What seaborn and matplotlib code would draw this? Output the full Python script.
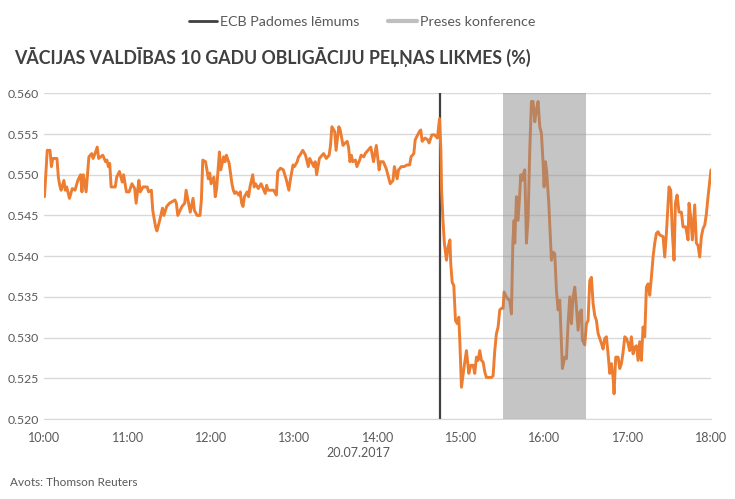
import pandas as pd
import numpy as np
import matplotlib
matplotlib.use('Agg')
import matplotlib.pyplot as plt
import matplotlib.dates as mdates
from matplotlib.lines import Line2D
import seaborn as sns

# minutes after 10:00 on 20.07.2017
minutes = [
    0, 2, 4, 5, 6, 9, 10, 11, 12, 14, 15, 16, 18, 20, 22, 24, 26, 27, 28, 30,
    32, 34, 35, 36, 38, 39, 42, 44, 45, 46, 47, 48, 51, 52, 54, 56, 57, 59, 61, 63,
    65, 66, 68, 69, 71, 74, 75, 77, 78, 80, 81, 83, 85, 86, 88, 90, 94, 95, 96, 99,
    101, 102, 104, 105, 107, 108, 110, 112, 113, 114, 116, 117, 118, 119, 120, 122, 123, 124, 126, 127,
    129, 130, 131, 133, 135, 136, 137, 138, 140, 141, 142, 143, 144, 146, 147, 148, 150, 151, 152, 154,
    156, 158, 159, 160, 161, 165, 167, 168, 170, 172, 174, 176, 177, 179, 180, 182, 183, 184, 186, 188,
    190, 191, 194, 195, 196, 198, 199, 201, 203, 205, 206, 207, 209, 210, 212, 213, 215, 216, 218, 219,
    220, 221, 222, 224, 225, 227, 228, 230, 231, 233, 234, 235, 237, 239, 241, 242, 244, 246, 247, 249,
    251, 252, 254, 255, 257, 259, 261, 263, 264, 266, 267, 270, 271, 272, 274, 276, 277, 279, 281, 283,
    284.5, 285.5, 286, 287, 288, 289.5, 290.7, 292, 292.6, 293.6, 294.8, 296, 297.4, 298.4, 299.1, 300.3, 302.2, 303.9, 305.6, 307,
    308.7, 309.9, 311.1, 312.3, 313.5, 314.7, 315.9, 317.1, 318.3, 320, 321.9, 323.1, 324.3, 325.5, 326.7, 327.9, 329.1, 330.3, 331, 332.7,
    333.9, 335.1, 336.3, 337.3, 338.2, 338.7, 339.9, 341.1, 342.3, 343, 344, 344.7, 345.9, 347.1, 348.3, 349.5, 350.7, 351.9, 353.1, 354.3,
    355.5, 356.7, 357.9, 359.1, 359.8, 360.8, 361.7, 363.2, 365.1, 366.3, 367.5, 368.7, 369.9, 371.1, 373, 374.7, 375.9, 377.1, 378.3, 379.5,
    380.7, 381.9, 383.1, 384.3, 385.5, 386.7, 387.4, 389.1, 390.3, 391.5, 392.7, 393.9, 395.1, 396.3, 397.5, 398.7, 399.9, 401.1, 402.3, 403.5,
    404.7, 405.9, 407.1, 408.3, 409.5, 410.2, 411.4, 413.1, 414.3, 415.5, 416.7, 417.9, 419.1, 420.3, 421.5, 422.7, 423.9, 425.1, 426.3, 427.5,
    428.7, 429.9, 431.1, 432.3, 433.5, 434.7, 435.9, 437.1, 438.3, 439.5, 440.7, 441.9, 443.1, 445.5, 446.7, 447.9, 449.8, 451, 452.2, 453.4,
    454.4, 455.6, 457, 458.7, 459.9, 461.8, 463.5, 464.2, 465.4, 466.6, 468.3, 469.5, 470.7, 471.9, 473.1, 474.3, 475.5, 476.7, 477.9, 480,
]
yields = [
    0.5473, 0.5530, 0.5530, 0.5510, 0.5520, 0.5520, 0.5497, 0.5487, 0.5481, 0.5493, 0.5481, 0.5485, 0.5471, 0.5483, 0.5481, 0.5493, 0.5500, 0.5479, 0.5500, 0.5479,
    0.5522, 0.5526, 0.5520, 0.5524, 0.5534, 0.5520, 0.5524, 0.5516, 0.5518, 0.5510, 0.5514, 0.5485, 0.5485, 0.5497, 0.5504, 0.5491, 0.5500, 0.5479, 0.5479, 0.5489,
    0.5483, 0.5465, 0.5493, 0.5479, 0.5485, 0.5485, 0.5479, 0.5481, 0.5456, 0.5436, 0.5431, 0.5444, 0.5459, 0.5450, 0.5461, 0.5465, 0.5469, 0.5465, 0.5450, 0.5461,
    0.5465, 0.5481, 0.5463, 0.5454, 0.5471, 0.5456, 0.5450, 0.5450, 0.5469, 0.5518, 0.5516, 0.5506, 0.5495, 0.5502, 0.5489, 0.5497, 0.5473, 0.5483, 0.5528, 0.5506,
    0.5522, 0.5516, 0.5524, 0.5514, 0.5489, 0.5481, 0.5477, 0.5479, 0.5475, 0.5479, 0.5465, 0.5461, 0.5473, 0.5479, 0.5473, 0.5485, 0.5500, 0.5485, 0.5489, 0.5483,
    0.5489, 0.5481, 0.5477, 0.5487, 0.5481, 0.5481, 0.5475, 0.5504, 0.5508, 0.5506, 0.5495, 0.5481, 0.5493, 0.5512, 0.5510, 0.5516, 0.5522, 0.5524, 0.5530, 0.5524,
    0.5510, 0.5520, 0.5510, 0.5516, 0.5500, 0.5520, 0.5522, 0.5526, 0.5520, 0.5524, 0.5536, 0.5559, 0.5553, 0.5530, 0.5559, 0.5555, 0.5536, 0.5538, 0.5541, 0.5534,
    0.5516, 0.5524, 0.5516, 0.5518, 0.5510, 0.5518, 0.5524, 0.5522, 0.5526, 0.5530, 0.5532, 0.5534, 0.5516, 0.5536, 0.5506, 0.5516, 0.5516, 0.5508, 0.5502, 0.5489,
    0.5493, 0.5510, 0.5495, 0.5506, 0.5510, 0.5510, 0.5512, 0.5512, 0.5522, 0.5526, 0.5543, 0.5553, 0.5555, 0.5541, 0.5545, 0.5543, 0.5539, 0.5549, 0.5549, 0.5545,
    0.5569, 0.5530, 0.5481, 0.5444, 0.5416, 0.5395, 0.5411, 0.5420, 0.5391, 0.5368, 0.5364, 0.5321, 0.5317, 0.5325, 0.5297, 0.5239, 0.5264, 0.5284, 0.5256, 0.5266,
    0.5266, 0.5256, 0.5276, 0.5272, 0.5284, 0.5272, 0.5270, 0.5258, 0.5251, 0.5251, 0.5251, 0.5253, 0.5284, 0.5305, 0.5313, 0.5334, 0.5336, 0.5336, 0.5356, 0.5350,
    0.5347, 0.5346, 0.5329, 0.5416, 0.5444, 0.5416, 0.5473, 0.5444, 0.5477, 0.5500, 0.5493, 0.5500, 0.5506, 0.5416, 0.5446, 0.5530, 0.5590, 0.5590, 0.5565, 0.5580,
    0.5590, 0.5559, 0.5551, 0.5514, 0.5485, 0.5516, 0.5504, 0.5465, 0.5395, 0.5405, 0.5403, 0.5358, 0.5334, 0.5346, 0.5262, 0.5276, 0.5274, 0.5317, 0.5350, 0.5317,
    0.5350, 0.5362, 0.5338, 0.5309, 0.5331, 0.5334, 0.5297, 0.5291, 0.5317, 0.5321, 0.5370, 0.5374, 0.5342, 0.5327, 0.5321, 0.5305, 0.5299, 0.5293, 0.5286, 0.5299,
    0.5301, 0.5280, 0.5256, 0.5268, 0.5251, 0.5231, 0.5276, 0.5276, 0.5262, 0.5268, 0.5282, 0.5301, 0.5299, 0.5293, 0.5284, 0.5301, 0.5280, 0.5288, 0.5290, 0.5272,
    0.5295, 0.5272, 0.5313, 0.5301, 0.5362, 0.5366, 0.5352, 0.5374, 0.5399, 0.5416, 0.5428, 0.5430, 0.5426, 0.5424, 0.5399, 0.5428, 0.5485, 0.5481, 0.5428, 0.5395,
    0.5465, 0.5475, 0.5454, 0.5454, 0.5436, 0.5436, 0.5420, 0.5465, 0.5448, 0.5420, 0.5463, 0.5416, 0.5413, 0.5399, 0.5424, 0.5434, 0.5438, 0.5452, 0.5473, 0.5506,
]

day_start = pd.Timestamp('2017-07-20 10:00')
ecb_decision = pd.Timestamp('2017-07-20 14:45')
press_conf = (pd.Timestamp('2017-07-20 15:30'), pd.Timestamp('2017-07-20 16:30'))

title = 'VĀCIJAS VALDĪBAS 10 GADU OBLIGĀCIJU PEĻŅAS LIKMES (%)'
legend_labels = ['ECB Padomes lēmums', 'Preses konference']

df = pd.DataFrame({
    'time': day_start + pd.to_timedelta(minutes, unit='min'),
    'yield': yields,
})

sns.set_style('white')
plt.rcParams['font.family'] = ['Lato', 'DejaVu Sans']
text_col = '#595959'
orange = '#ED7D31'

fig = plt.figure(figsize=(7.35, 4.99), dpi=100)
ax = fig.add_axes([0.0605, 0.1603, 0.9068, 0.6527])

sns.lineplot(data=df, x='time', y='yield', color=orange, linewidth=2.1, ax=ax, zorder=3)
ax.axvline(ecb_decision, color='#404040', linewidth=1.6, zorder=2)
ax.axvspan(press_conf[0], press_conf[1], color='#8c8c8c', alpha=0.5, lw=0, zorder=4)

ax.set_xlim(day_start, day_start + pd.Timedelta(hours=8))
ax.set_ylim(0.520, 0.560)
ax.set_yticks(np.arange(0.520, 0.5601, 0.005))
ax.yaxis.set_major_formatter(plt.FuncFormatter(lambda v, p: f'{v:.3f}'))
ax.xaxis.set_major_locator(mdates.HourLocator())
ax.xaxis.set_major_formatter(mdates.DateFormatter('%H:%M'))
ax.grid(axis='y', color='#d9d9d9', linewidth=1)
ax.grid(axis='x', visible=False)
for s in ['top', 'right', 'left']:
    ax.spines[s].set_visible(False)
ax.spines['bottom'].set_color('#d9d9d9')
ax.tick_params(axis='y', length=0, pad=4, labelsize=8.8, labelcolor=text_col)
ax.tick_params(axis='x', length=4, color='#d9d9d9', pad=5, labelsize=9, labelcolor=text_col)
ax.set_xlabel('')
ax.set_ylabel('')

fig.text(358 / 735, 1 - 453 / 499, '20.07.2017', ha='center', va='center', fontsize=9, color=text_col)
fig.text(14 / 735, 1 - 57 / 499, title, ha='left', va='center', fontsize=12.8, fontweight='bold', color='#404040')
fig.text(10 / 735, 1 - 483 / 499, 'Avots: Thomson Reuters', ha='left', va='center', fontsize=8.5, color=text_col)

handles = [Line2D([], [], color='#404040', linewidth=2),
           Line2D([], [], color='#bfbfbf', linewidth=3)]
fig.legend(handles, legend_labels, loc='center', bbox_to_anchor=(362 / 735, 1 - 22 / 499),
           ncol=2, frameon=False, fontsize=10.3, handlelength=2, handletextpad=0.2,
           columnspacing=2, labelcolor=text_col)

fig.savefig('out.png', dpi=100)
plt.close(fig)
